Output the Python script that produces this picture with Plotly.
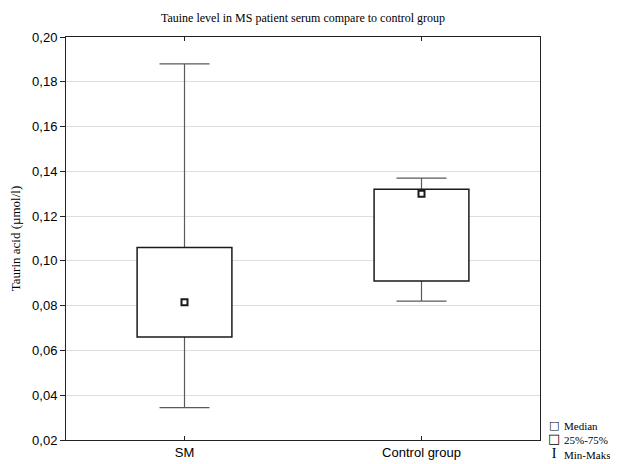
import plotly.graph_objects as go

categories = ["SM", "Control group"]
q1 = [0.066, 0.091]
median = [0.0815, 0.130]
q3 = [0.106, 0.132]
vmin = [0.0345, 0.082]
vmax = [0.188, 0.137]

y_ticks = [0.02, 0.04, 0.06, 0.08, 0.10, 0.12, 0.14, 0.16, 0.18, 0.20]
legend_labels = ["Median", "25%-75%", "Min-Maks"]

serif = "Liberation Serif"
sans = "Liberation Sans"

fig = go.Figure()

# whiskers (error bars on an invisible bar)
fig.add_trace(go.Bar(
    x=categories, y=median, width=0.4,
    marker=dict(color="rgba(0,0,0,0)", line=dict(width=0)),
    error_y=dict(type="data", symmetric=False,
                 array=[mx - m for mx, m in zip(vmax, median)],
                 arrayminus=[m - mn for m, mn in zip(median, vmin)],
                 color="#5a5a5a", thickness=1.2, width=25),
    name=legend_labels[2], hoverinfo="skip",
))

# boxes
fig.add_trace(go.Bar(
    x=categories, y=[b - a for a, b in zip(q1, q3)], base=q1, width=0.4,
    marker=dict(color="white", line=dict(color="#1a1a1a", width=1.5)),
    name=legend_labels[1],
))

# medians
fig.add_trace(go.Scatter(
    x=categories, y=median, mode="markers",
    marker=dict(symbol="square", size=6, color="white",
                line=dict(color="#1a1a1a", width=2)),
    name=legend_labels[0],
))

# legend drawn as text at the lower right
icons = ['<span style="font-family:DejaVu Sans;font-weight:bold;font-size:11px">□</span>',
         '<span style="font-family:DejaVu Sans;font-size:13px">□</span>',
         '<span style="font-family:Liberation Serif;font-size:14px">I</span>']
fig.add_annotation(x=1.029, y=0.0, xref="paper", yref="paper",
                   text="<br>".join(icons), showarrow=False, borderpad=0,
                   xanchor="center", yanchor="middle", align="center",
                   font=dict(family="DejaVu Sans", size=11, color="black"))
fig.add_annotation(x=1.048, y=0.0, xref="paper", yref="paper",
                   text="<br>".join(legend_labels), showarrow=False, borderpad=0,
                   xanchor="left", yanchor="middle", align="left",
                   font=dict(family=serif, size=11, color="black"))

# page body adds an 8px offset; margins compensate for it
fig.update_layout(
    width=618, height=464,
    margin=dict(l=58, r=86, t=29, b=32, autoexpand=False),
    paper_bgcolor="white", plot_bgcolor="white",
    barmode="overlay",
    separators=", ",
    title=dict(text="Tauine level in MS patient serum compare to control group",
               x=0.5, xref="paper", xanchor="center",
               y=1 - 10 / 464, yanchor="middle",
               font=dict(family=serif, size=12, color="black")),
    showlegend=False,
)

fig.update_xaxes(
    type="category", range=[-0.5, 1.5],
    showline=True, linecolor="#222222", linewidth=1, mirror="ticks",
    ticks="inside", ticklen=4, tickcolor="#222222",
    showgrid=False, zeroline=False,
    tickfont=dict(family=sans, size=13, color="black"),
)

fig.update_yaxes(
    range=[0.02, 0.20],
    tickvals=y_ticks, tickformat=".2f",
    showline=True, linecolor="#222222", linewidth=1, mirror=True,
    ticks="outside", ticklen=5, tickcolor="#222222",
    showgrid=True, gridcolor="#dedede", gridwidth=1, zeroline=False,
    tickfont=dict(family=sans, size=13, color="black"),
    title=dict(text="Taurin acid (µmol/l)", standoff=8,
               font=dict(family=serif, size=13, color="black")),
)

fig.write_html("out.html")
